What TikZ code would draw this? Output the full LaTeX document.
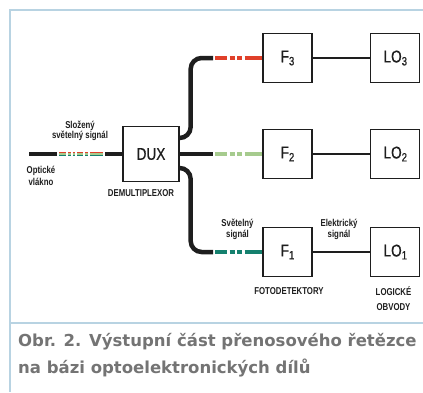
\documentclass[tikz,border=0pt]{standalone}
\usepackage{fontspec}
\setmainfont{Liberation Sans}
\newfontfamily\uzkyfont[FakeStretch=0.78]{Liberation Sans}
\newfontfamily\blokfont[FakeStretch=0.8,FakeBold=0.6]{Liberation Sans}
\newfontfamily\titulekfont{DejaVu Sans}
\usetikzlibrary{positioning}
\definecolor{ramec}{HTML}{B8D3E2}
\definecolor{cervena}{HTML}{E0402A}
\definecolor{zelena}{HTML}{A6CB8E}
\definecolor{tyrkys}{HTML}{15806E}
\definecolor{inkoust}{HTML}{1E1E1E}
\definecolor{popisek}{HTML}{747474}
\newcommand{\dolni}[1]{\raisebox{-3pt}{\fontsize{12}{12}\selectfont #1}}
\tikzset{
  blok/.style={draw=inkoust,fill=white,line width=1.3pt,minimum size=49pt,inner sep=0pt,font=\blokfont\fontsize{17}{17}\selectfont,text=inkoust},
  popis/.style={font=\uzkyfont\bfseries\fontsize{10}{10.5}\selectfont,align=center,inner sep=0pt,text=inkoust},
  vlakno/.style={draw=inkoust,line width=4.5pt},
  svetlo/.style={line width=4pt,dash pattern=on 12pt off 2.5pt on 5pt off 2.5pt on 5pt off 2.5pt on 30pt},
  smes/.style={line width=1.5pt,dash pattern=on 7pt off 2pt on 2.5pt off 2pt on 2.5pt off 2pt on 6pt off 2pt on 3pt off 2pt on 20pt},
  drat/.style={draw=inkoust,line width=1.2pt},
  ramecek/.style={draw=ramec,line width=2pt},
  titulek/.style={font=\titulekfont\bfseries\fontsize{16.5}{16.5}\selectfont,text=popisek,inner sep=0pt,anchor=base west},
}
\begin{document}
\begin{tikzpicture}[x=1pt,y=-1pt]
\useasboundingbox (0,0) rectangle (423,392);
% ramecek
\draw[ramecek] (423,10) -- (10,10) -- (10,392);
\draw[ramecek] (10,323) -- (423,323);
% bloky
\node[blok,minimum width=56pt,minimum height=55pt] (dux) at (151,154) {DUX};
\node[blok] (f3) at (287.5,58) {F\dolni{3}};
\node[blok,right=57.5pt of f3] (lo3) {LO\dolni{3}};
\node[blok] (f2) at (287.5,154) {F\dolni{2}};
\node[blok,right=57.5pt of f2] (lo2) {LO\dolni{2}};
\node[blok] (f1) at (287.5,252) {F\dolni{1}};
\node[blok,right=57.5pt of f1] (lo1) {LO\dolni{1}};
% vlakna
\coordinate (vstup) at (29,154);
\coordinate (v1) at (57,154);
\coordinate (v2) at (59,154);
\coordinate (v3) at (103,154);
\coordinate (v4) at (105,154);
\coordinate (k3) at (213,58);
\coordinate (k2) at (213,154);
\coordinate (k1) at (213,252);
\draw[vlakno] (vstup) -- (v1);
\draw[smes,draw=cervena] ([yshift=1.5pt]v2) -- ([yshift=1.5pt]v3);
\draw[smes,draw=zelena] (v2) -- (v3);
\draw[smes,draw=tyrkys] ([yshift=-1.5pt]v2) -- ([yshift=-1.5pt]v3);
\draw[vlakno] (v4) -- (dux.west);
\draw[vlakno,rounded corners=11pt] ([yshift=16pt]dux.east) -- ++(11,0) |- (k3);
\draw[vlakno] (dux.east) -- (k2);
\draw[vlakno,rounded corners=11pt] ([yshift=-14pt]dux.east) -- ++(11,0) |- (k1);
\draw[svetlo,draw=cervena] ([xshift=2pt]k3) -- (f3.west);
\draw[svetlo,draw=zelena] ([xshift=2pt]k2) -- (f2.west);
\draw[svetlo,draw=tyrkys] ([xshift=2pt]k1) -- (f1.west);
\draw[drat] (f3) -- (lo3);
\draw[drat] (f2) -- (lo2);
\draw[drat] (f1) -- (lo1);
% popisky
\node[popis] (slozeny) at (80,131) {Složený\\světelný signál};
\node[popis,font=\uzkyfont\bfseries\fontsize{10}{12}\selectfont] (opticke) at (41,176) {Optické\\vlákno};
\node[popis] (demux) at (141,193) {DEMULTIPLEXOR};
\node[popis] (svetelny) at (237.5,229.5) {Světelný\\signál};
\node[popis] (elektricky) at (339,229.5) {Elektrický\\signál};
\node[popis] (fotodet) at (289,291) {FOTODETEKTORY};
\node[popis,font=\uzkyfont\bfseries\fontsize{10}{15}\selectfont] (logicke) at (393.5,298.5) {LOGICKÉ\\OBVODY};
% titulek
\node[titulek] (titulek1) at (18,346) {Obr. 2. Výstupní část přenosového řetězce};
\node[titulek] (titulek2) at (18,373) {na bázi optoelektronických dílů};
\end{tikzpicture}
\end{document}
